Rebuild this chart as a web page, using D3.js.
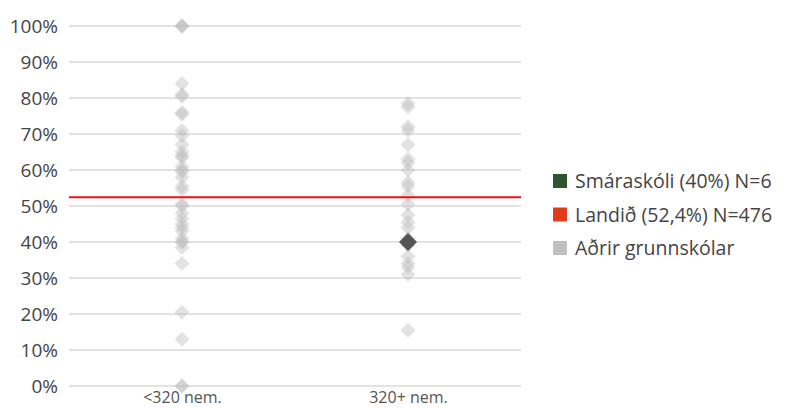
<!DOCTYPE html>
<html>
<head>
<meta charset="utf-8">
<script src="https://cdn.jsdelivr.net/npm/d3@7"></script>
<style>
  body { margin: 0; background: #fff; }
  text { font-family: 'Open Sans', sans-serif; }
</style>
</head>
<body>
<div id="chart"></div>
<script>
// categories on the x axis
var categories = ["<320 nem.", "320+ nem."];
// other schools (percent), per category
var smallSchools = [100, 100, 100, 84, 81, 80.5, 76, 75.5, 71, 69.5, 67, 65, 64, 63.5, 61, 60, 59.5, 58, 55.5, 54.5,
    50.5, 50, 48, 46.5, 45, 44, 43, 41, 40, 40, 38.5, 34, 20.5, 13, 0, 0];
var largeSchools = [78.5, 77.5, 72, 71, 67, 63, 62, 60, 56.5, 55.5, 53, 50.5, 47.5, 45.5, 44, 41, 39, 36, 34, 33, 31, 15.5];
// highlighted school
var schoolName = "Smáraskóli";
var schoolCat = "320+ nem.";
var schoolValue = 40;
var schoolN = 6;
// national average
var nationalValue = 52.4;
var nationalN = 476;
var yTicks = [0, 10, 20, 30, 40, 50, 60, 70, 80, 90, 100];
var legendLabels = ["Smáraskóli (40%) N=6", "Landið (52,4%) N=476", "Aðrir grunnskólar"];
var legendColors = ["#2d5530", "#e03c1a", "#bfbfbf"];

var width = 786, height = 408;
var plot = { left: 69, right: 521, top: 26, bottom: 386 };

var svg = d3.select("#chart").append("svg")
    .attr("width", width)
    .attr("height", height);

var x = d3.scalePoint().domain(categories).range([plot.left, plot.right]).padding(0.5);
var y = d3.scaleLinear().domain([0, 100]).range([plot.bottom, plot.top]);

// gridlines
svg.append("g")
    .selectAll("line")
    .data(yTicks)
    .enter().append("line")
    .attr("x1", plot.left)
    .attr("x2", plot.right)
    .attr("y1", function (d) { return y(d); })
    .attr("y2", function (d) { return y(d); })
    .attr("stroke", "#d9d9d9")
    .attr("stroke-width", 1.5);

// y axis labels
var yAxis = svg.append("g")
    .attr("transform", "translate(" + (plot.left - 11) + ",0)")
    .call(d3.axisLeft(y).tickValues(yTicks).tickSize(0).tickFormat(function (d) { return d + "%"; }));
yAxis.select(".domain").remove();
yAxis.selectAll("text")
    .attr("x", 0)
    .attr("dy", "0.36em")
    .style("font-family", "'Open Sans', sans-serif")
    .style("font-size", "19px")
    .attr("fill", "#444");

// x axis labels
var xAxis = svg.append("g")
    .attr("transform", "translate(0," + plot.bottom + ")")
    .call(d3.axisBottom(x).tickSize(0));
xAxis.select(".domain").remove();
xAxis.selectAll("text")
    .attr("y", 6)
    .attr("dy", "0.71em")
    .style("font-family", "'Open Sans', sans-serif")
    .style("font-size", "16px")
    .attr("fill", "#555");

// other schools
var others = smallSchools.map(function (v) { return { cat: categories[0], value: v }; })
    .concat(largeSchools.map(function (v) { return { cat: categories[1], value: v }; }));

var diamond = d3.symbol().type(d3.symbolSquare).size(112);
svg.append("g")
    .selectAll("path")
    .data(others)
    .enter().append("path")
    .attr("d", diamond)
    .attr("transform", function (d) { return "translate(" + x(d.cat) + "," + y(d.value) + ") rotate(45)"; })
    .attr("fill", "#bfbfbf")
    .attr("fill-opacity", 0.45);

// national line
svg.append("line")
    .attr("x1", plot.left)
    .attr("x2", plot.right)
    .attr("y1", y(nationalValue))
    .attr("y2", y(nationalValue))
    .attr("stroke", "#ee1111")
    .attr("stroke-width", 2);

// highlighted school
svg.append("path")
    .attr("d", d3.symbol().type(d3.symbolSquare).size(162))
    .attr("transform", "translate(" + x(schoolCat) + "," + y(schoolValue) + ") rotate(45)")
    .attr("fill", "#555555");

// legend
var legend = svg.append("g").attr("transform", "translate(553,181)");
var item = legend.selectAll("g")
    .data(legendLabels)
    .enter().append("g")
    .attr("transform", function (d, i) { return "translate(0," + (i * 33.5) + ")"; });
item.append("rect")
    .attr("x", 0)
    .attr("y", -7)
    .attr("width", 14)
    .attr("height", 14)
    .attr("fill", function (d, i) { return legendColors[i]; });
item.append("text")
    .attr("x", 22)
    .attr("dy", "0.36em")
    .style("font-size", "19.5px")
    .attr("fill", "#444")
    .text(function (d) { return d; });
</script>
</body>
</html>
